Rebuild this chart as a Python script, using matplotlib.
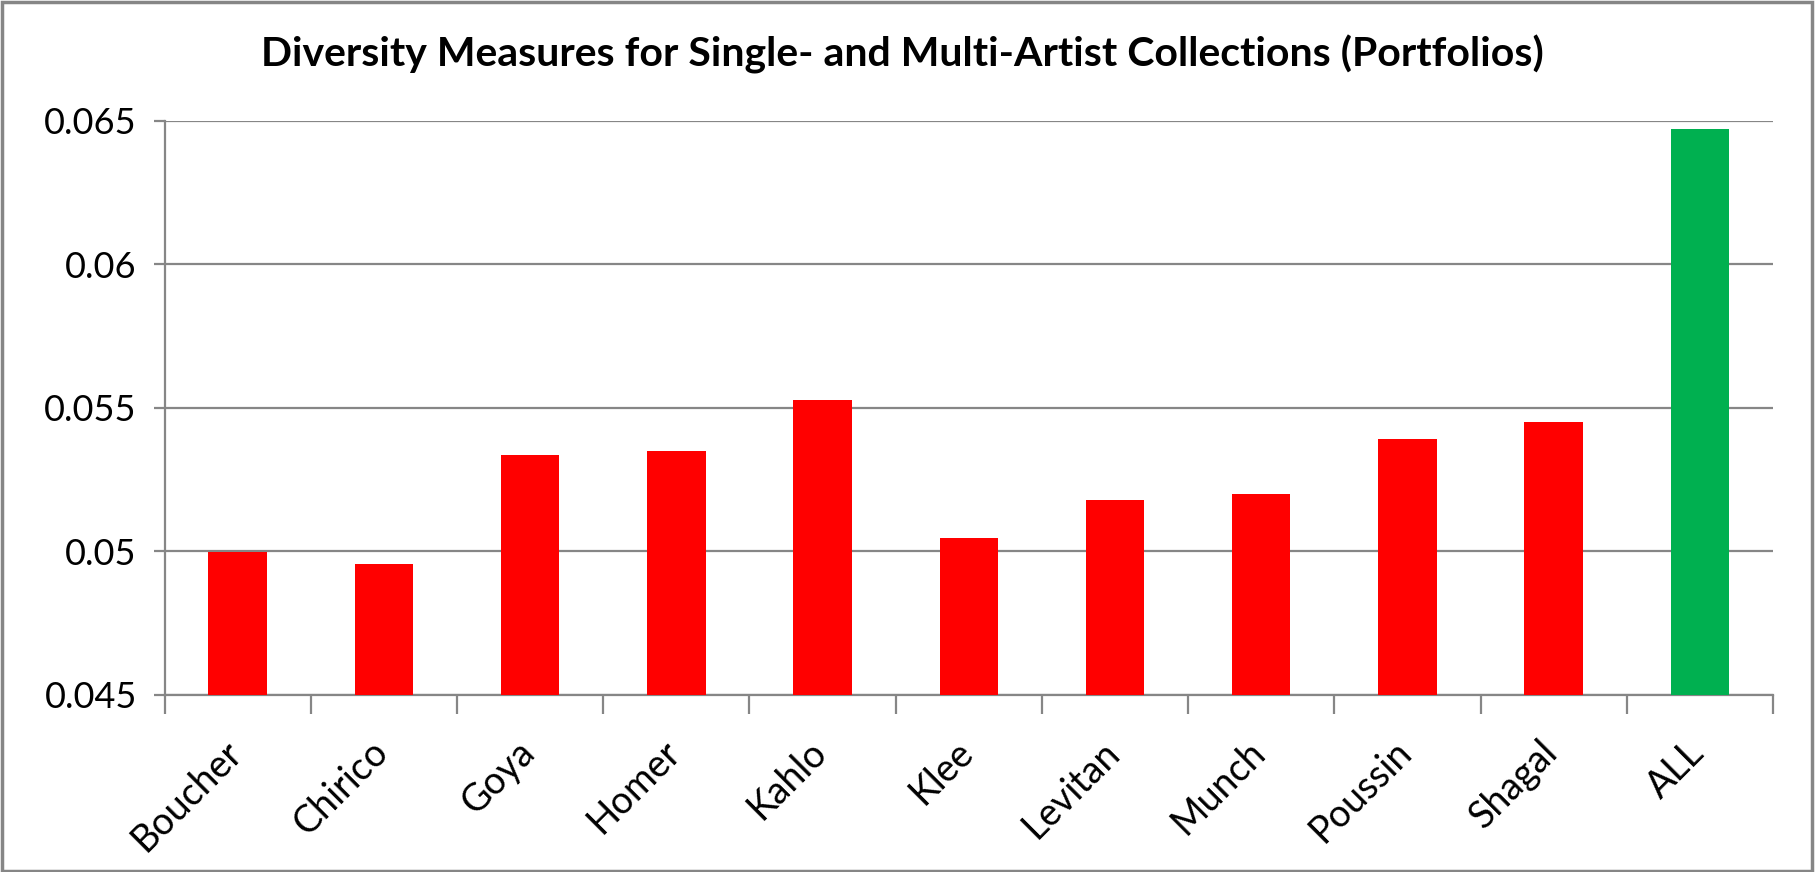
import matplotlib.pyplot as plt
import numpy as np
from matplotlib.patches import Rectangle
from matplotlib.transforms import ScaledTranslation

artists = ['Boucher', 'Chirico', 'Goya', 'Homer', 'Kahlo', 'Klee',
           'Levitan', 'Munch', 'Poussin', 'Shagal', 'ALL']
diversity = [0.04998, 0.04955, 0.05334, 0.05351, 0.05526, 0.05047,
             0.05178, 0.05201, 0.05390, 0.05449, 0.06470]
bar_colors = ['#FF0000'] * 10 + ['#00B050']
yticks = [0.045, 0.05, 0.055, 0.06, 0.065]
ytick_labels = ['0.045', '0.05', '0.055', '0.06', '0.065']

plt.rcParams['font.family'] = ['Lato', 'DejaVu Sans']
grid_col = '#868686'

fig = plt.figure(figsize=(18.16, 8.72), dpi=100)
ax = fig.add_axes([0.0906, 0.2030, 0.8857, 0.6588])

x = np.arange(len(artists))
ax.bar(x, [v - 0.045 for v in diversity], bottom=0.045, width=0.4,
       color=bar_colors, zorder=3)

ax.set_xlim(-0.5, len(artists) - 0.5)
ax.set_ylim(0.045, 0.065)
ax.set_yticks(yticks)
ax.set_yticklabels(ytick_labels, fontsize=26)
ax.yaxis.grid(True, color=grid_col, linewidth=1.6, zorder=0)

ax.set_xticks(x)
ax.set_xticklabels(artists, fontsize=27, rotation=45, ha='right',
                   rotation_mode='anchor')
ax.tick_params(axis='x', which='major', length=0, pad=28)
# nudge labels a little to the left, like the original
shift = ScaledTranslation(-14 / 100, 0, fig.dpi_scale_trans)
for lbl in ax.get_xticklabels():
    lbl.set_transform(lbl.get_transform() + shift)
ax.set_xticks(np.arange(-0.5, len(artists)), minor=True)
ax.tick_params(axis='x', which='minor', length=14, width=1.6, color=grid_col,
               direction='out')
ax.tick_params(axis='y', length=8, width=1.6, color=grid_col, pad=12)

for s in ['top', 'right']:
    ax.spines[s].set_visible(False)
for s in ['left', 'bottom']:
    ax.spines[s].set_color(grid_col)
    ax.spines[s].set_linewidth(1.6)

fig.text(0.497, 0.938, 'Diversity Measures for Single- and Multi-Artist Collections (Portfolios)',
         ha='center', va='center', fontsize=29.5, fontweight='bold')

fig.patches.append(Rectangle((0.001, 0.001), 0.997, 0.997, transform=fig.transFigure,
                             fill=False, edgecolor=grid_col, linewidth=2.5))

fig.savefig('out.png', dpi=100)
